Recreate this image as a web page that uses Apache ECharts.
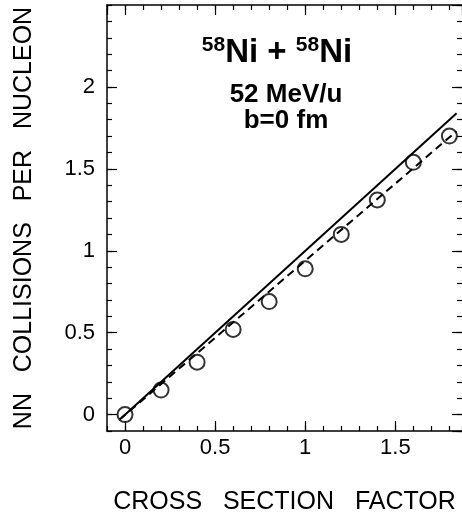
<!DOCTYPE html>
<html>
<head>
<meta charset="utf-8">
<script src="https://cdn.jsdelivr.net/npm/echarts@6/dist/echarts.min.js"></script>
<style>
  html, body { margin: 0; padding: 0; background: #fff; }
  #chart { width: 462px; height: 520px; }
</style>
</head>
<body>
<div id="chart"></div>
<script>
// data
const crossFactor = [0, 0.2, 0.4, 0.6, 0.8, 1.0, 1.2, 1.4, 1.6, 1.8];
const collisions = [0, 0.15, 0.32, 0.52, 0.69, 0.89, 1.10, 1.31, 1.54, 1.70];
const solidX = [-0.02, 1.84];
const solidY = [-0.02, 1.84];
const dashedX = [-0.03, 1.84];
const dashedY = [-0.03, 1.73];

const FONT = "'Liberation Sans', Arial, sans-serif";

function pairs(xs, ys) {
  return xs.map((x, i) => [x, ys[i]]);
}

let chart = echarts.init(document.getElementById("chart"));

// major axis: ticks every 0.5 (splitNumber), minor axis: ticks every 0.1
function xAx(pos, major) {
  let ax = {
    type: "value",
    position: pos,
    min: -0.1,
    max: 1.87,
    axisLine: { show: major, onZero: false, lineStyle: { color: "#000", width: 1.5 } },
    splitLine: { show: false },
    axisTick: { show: true, inside: true, length: major ? 10 : 5, lineStyle: { color: "#000", width: 1.2 } },
    axisLabel: {
      show: pos == "bottom" && major,
      showMinLabel: false,
      showMaxLabel: false,
      margin: 6,
      fontFamily: FONT,
      fontSize: 22,
      color: "#000"
    }
  };
  if (pos == "bottom" && major) {
    ax.name = "CROSS   SECTION   FACTOR";
    ax.nameLocation = "middle";
    ax.nameGap = 59;
    ax.nameTextStyle = { fontFamily: FONT, fontSize: 25, color: "#000" };
  }
  if (major) ax.splitNumber = 4;
  else ax.interval = 0.1;
  return ax;
}

function yAx(pos, major) {
  let ax = {
    type: "value",
    position: pos,
    min: -0.1,
    max: 2.5,
    // right frame edge sits just past the picture, so its line is not drawn
    axisLine: { show: major && pos == "left", onZero: false, lineStyle: { color: "#000", width: 1.5 } },
    splitLine: { show: false },
    axisTick: { show: true, inside: true, length: major ? 10 : 5, lineStyle: { color: "#000", width: 1.2 } },
    axisLabel: {
      show: pos == "left" && major,
      showMinLabel: false,
      showMaxLabel: false,
      margin: 12,
      fontFamily: FONT,
      fontSize: 22,
      color: "#000"
    }
  };
  if (pos == "left" && major) {
    ax.name = "NN   COLLISIONS   PER   NUCLEON";
    ax.nameLocation = "middle";
    ax.nameGap = 70;
    ax.nameTextStyle = { fontFamily: FONT, fontSize: 25, color: "#000" };
  }
  if (major) ax.splitNumber = 5;
  else ax.interval = 0.1;
  return ax;
}

let option = {
  animation: false,
  backgroundColor: "#fff",
  grid: { left: 107, top: 5, right: 0, bottom: 88 },
  xAxis: [xAx("bottom", true), xAx("bottom", false), xAx("top", true), xAx("top", false)],
  yAxis: [yAx("left", true), yAx("left", false), yAx("right", true), yAx("right", false)],
  graphic: [
    {
      type: "text",
      x: 277,
      y: 52,
      style: {
        text: "{sup|58}{big|Ni + }{sup|58}{big|Ni}",
        align: "center",
        verticalAlign: "middle",
        fill: "#000",
        rich: {
          big: { fontFamily: FONT, fontWeight: "bold", fontSize: 33, lineHeight: 34, verticalAlign: "bottom" },
          sup: { fontFamily: FONT, fontWeight: "bold", fontSize: 21, lineHeight: 34, verticalAlign: "top" }
        }
      }
    },
    {
      type: "text",
      x: 286,
      y: 95,
      style: {
        text: "52 MeV/u",
        align: "center",
        verticalAlign: "middle",
        fill: "#000",
        font: "bold 26px " + FONT
      }
    },
    {
      type: "text",
      x: 286,
      y: 121,
      style: {
        text: "b=0 fm",
        align: "center",
        verticalAlign: "middle",
        fill: "#000",
        font: "bold 26px " + FONT
      }
    }
  ],
  series: [
    {
      name: "solid",
      type: "line",
      data: pairs(solidX, solidY),
      symbol: "none",
      lineStyle: { color: "#000", width: 2 }
    },
    {
      name: "dashed",
      type: "line",
      data: pairs(dashedX, dashedY),
      symbol: "none",
      lineStyle: { color: "#000", width: 2, type: [8, 5] }
    },
    {
      name: "points",
      type: "scatter",
      data: pairs(crossFactor, collisions),
      symbol: "circle",
      symbolSize: 15,
      itemStyle: { color: "rgba(0,0,0,0)", borderColor: "#000", borderWidth: 2 }
    }
  ]
};
chart.setOption(option);
try { chart.getZr().refreshImmediately(); } catch (e) {}
</script>
</body>
</html>
